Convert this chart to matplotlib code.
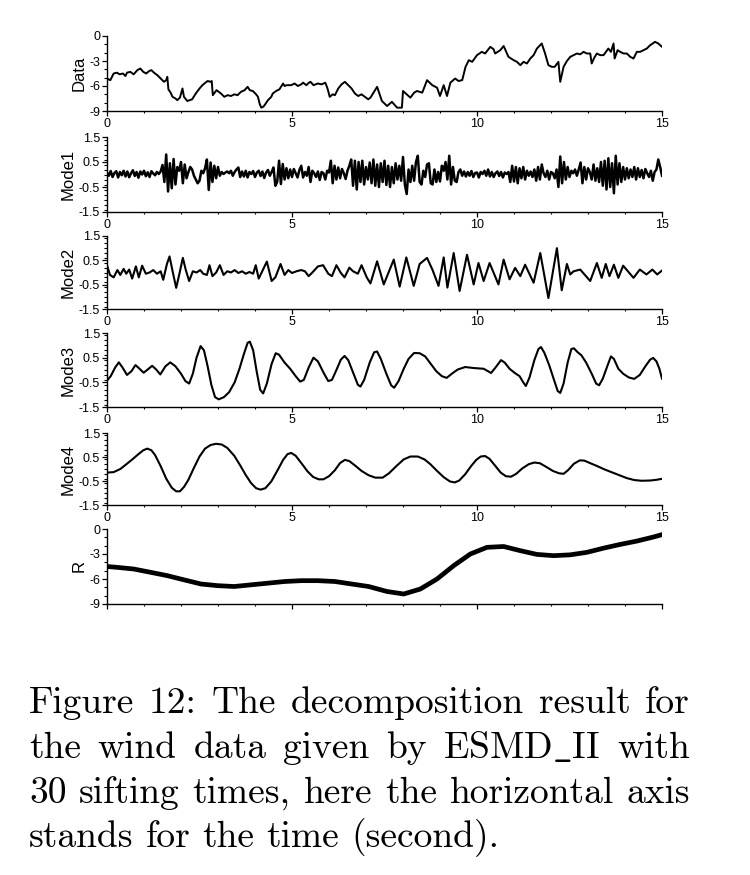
import matplotlib
matplotlib.use("Agg")
import matplotlib.pyplot as plt
from matplotlib.ticker import MultipleLocator, FormatStrFormatter

plt.rcParams.update({"font.family": ["Liberation Sans", "DejaVu Sans"],
                     "axes.unicode_minus": False, "mathtext.fontset": "cm"})

# ---- series ----
data_pts = [
    (0.00, -5.1), (0.09, -5.3), (0.18, -4.5), (0.27, -4.4), (0.34, -4.6), (0.43, -4.5),
    (0.50, -4.8), (0.54, -4.4), (0.63, -4.3), (0.72, -4.6), (0.82, -4.1), (0.90, -3.9),
    (0.98, -4.3), (1.06, -4.5), (1.14, -4.2), (1.20, -4.1), (1.27, -4.4), (1.36, -4.7),
    (1.45, -5.1), (1.54, -5.5), (1.60, -5.3), (1.63, -4.9), (1.66, -6.4), (1.72, -6.8),
    (1.77, -7.3), (1.85, -7.5), (1.90, -7.7), (1.97, -7.4), (2.04, -6.3), (2.08, -7.3),
    (2.17, -7.8), (2.30, -7.6), (2.40, -6.9), (2.50, -6.3), (2.58, -5.9), (2.66, -5.6),
    (2.72, -5.4), (2.80, -5.5), (2.83, -5.4), (2.86, -7.1), (2.96, -6.5), (3.08, -6.9),
    (3.17, -7.3), (3.26, -7.1), (3.35, -7.2), (3.44, -7.0), (3.53, -7.1), (3.62, -6.7),
    (3.72, -6.5), (3.80, -6.1), (3.86, -6.5), (3.94, -6.6), (4.03, -7.0), (4.08, -7.3),
    (4.13, -8.2), (4.17, -8.6), (4.22, -8.5), (4.26, -8.3), (4.35, -7.7), (4.44, -7.3),
    (4.48, -6.9), (4.57, -6.6), (4.66, -6.4), (4.76, -5.7), (4.80, -6.0), (4.86, -5.9),
    (4.98, -5.9), (5.07, -5.7), (5.16, -6.0), (5.25, -5.8), (5.30, -5.6), (5.39, -5.9),
    (5.46, -5.6), (5.50, -5.5), (5.58, -5.9), (5.70, -5.7), (5.80, -5.8), (5.90, -5.6),
    (5.96, -6.3), (6.02, -7.3), (6.10, -7.0), (6.16, -7.1), (6.25, -6.3), (6.34, -5.8),
    (6.43, -5.5), (6.52, -5.9), (6.61, -6.3), (6.70, -6.9), (6.79, -7.2), (6.88, -7.0),
    (6.97, -7.3), (7.06, -7.6), (7.12, -7.4), (7.30, -6.1), (7.43, -7.8), (7.57, -8.4),
    (7.70, -7.9), (7.84, -8.6), (7.97, -8.6), (8.00, -6.6), (8.10, -7.0), (8.20, -7.4),
    (8.30, -6.8), (8.38, -6.6), (8.52, -6.8), (8.65, -5.3), (8.79, -5.9), (8.92, -6.2),
    (9.00, -7.2), (9.10, -5.9), (9.19, -7.2), (9.28, -5.6), (9.41, -5.1), (9.50, -5.4),
    (9.60, -5.3), (9.69, -3.7), (9.78, -2.9), (9.87, -3.1), (9.95, -2.6), (10.00, -2.3),
    (10.13, -1.9), (10.22, -2.1), (10.36, -1.3), (10.45, -1.6), (10.49, -2.1), (10.63, -1.7),
    (10.72, -1.2), (10.85, -2.5), (10.92, -2.7), (10.99, -2.9), (11.08, -3.1), (11.17, -3.5),
    (11.26, -3.1), (11.35, -3.3), (11.44, -2.7), (11.53, -2.3), (11.62, -1.5), (11.75, -0.9),
    (11.84, -2.1), (11.93, -3.5), (12.02, -3.7), (12.10, -3.7), (12.20, -3.1), (12.25, -5.5),
    (12.34, -3.7), (12.43, -3.0), (12.52, -2.5), (12.61, -2.3), (12.70, -2.1), (12.79, -2.2),
    (12.88, -1.9), (12.97, -2.1), (13.06, -2.1), (13.10, -3.3), (13.17, -2.6), (13.24, -2.1),
    (13.33, -2.3), (13.42, -2.3), (13.55, -1.5), (13.62, -1.9), (13.69, -0.9), (13.72, -2.7),
    (13.80, -1.7), (13.87, -1.9), (13.96, -2.1), (14.05, -2.1), (14.14, -2.5), (14.23, -2.7),
    (14.32, -1.9), (14.41, -1.9), (14.50, -1.7), (14.59, -1.5), (14.68, -1.1), (14.75, -0.9),
    (14.81, -0.7), (14.90, -0.9), (15.00, -1.3),
]

# Mode1, sampled evenly over 0..15 s
mode1_v = [
    0.08, -0.05, 0.14, -0.10, 0.06, 0.13, -0.12, 0.10, -0.03, 0.15, -0.08, 0.12, -0.11, 0.05,
    0.17, -0.06, 0.10, -0.13, 0.12, 0.00, 0.15, -0.07, 0.09, -0.10, 0.13, 0.04, -0.03, 0.10, 0.02,
    0.12, 0.38, -0.30, 0.80, -0.68, 0.45, -0.55, 0.62, -0.40, 0.30, 0.15, 0.50,
    -0.35, 0.40, -0.15, 0.10, 0.30, 0.20, -0.05, -0.20,
    -0.35, -0.25, 0.15, 0.05, 0.25, 0.60, -0.62, 0.48,
    -0.30, 0.35, -0.15, 0.30, -0.05, 0.10, 0.02, 0.08,
    0.12, 0.05, 0.15, -0.05, 0.10, 0.20, 0.28, -0.10,
    0.12, -0.08, 0.15, -0.12, 0.10, 0.02, 0.14, -0.10, 0.08, 0.15, -0.06, 0.12, -0.14, 0.08, 0.18, -0.05,
    0.10, 0.28, -0.45, -0.30, 0.55, -0.38, 0.42, -0.20,
    0.25, -0.15, 0.20, -0.10, 0.22, 0.05, -0.12, 0.18,
    0.35, -0.12, 0.10, -0.05, 0.30, -0.30, 0.15, 0.05,
    -0.10, 0.12, -0.22, 0.10, 0.05, -0.20, 0.15, 0.08,
    0.55, -0.35, 0.35, -0.20, 0.28, -0.15, 0.22, 0.05,
    -0.18, 0.15, 0.35, 0.60, -0.45, 0.55, -0.60, 0.50,
    -0.30, 0.55, -0.40, 0.30, -0.20, 0.48, -0.35, 0.60,
    -0.45, 0.40, -0.50, 0.45, -0.30, 0.55, -0.42, 0.35,
    -0.50, 0.30, -0.35, 0.45, -0.20, 0.35, -0.25, 0.70,
    -0.40, -0.78, 0.20, -0.30, 0.35, -0.25, 0.50, 0.75,
    -0.30, -0.40, 0.15, -0.10, 0.40, 0.45, -0.35, -0.40,
    0.20, -0.30, 0.10, -0.28, 0.35, 0.15, 0.50, -0.20,
    0.75, -0.40, 0.30, -0.25, -0.30, 0.10, 0.20, -0.05,
    0.12, -0.08, 0.10, -0.05, 0.14, -0.10, 0.06, 0.08, -0.12, 0.10, 0.02, 0.15,
    -0.05, 0.20, -0.08, 0.10, -0.10, 0.05, 0.12, -0.06, 0.10, -0.12, 0.08, 0.02,
    0.10, -0.30, 0.35, -0.28, 0.30, -0.35, 0.25, -0.15, 0.30, -0.20,
    0.15, -0.05, 0.12, -0.10, 0.20, -0.25, 0.30, -0.20, 0.40, 0.05,
    -0.10, 0.15, -0.20, 0.10, 0.05, -0.15, 0.20, -0.50, 0.72,
    -0.35, 0.50, -0.20, 0.30, -0.10, 0.15, 0.05, 0.20,
    -0.05, 0.20, 0.48, -0.35, 0.30, -0.20, 0.25, 0.10,
    -0.20, 0.40, -0.25, 0.25, -0.30, 0.50, -0.45, 0.55,
    -0.60, 0.65, -0.50, 0.45, -0.75, 0.75, -0.40, 0.45,
    -0.30, 0.30, -0.20, 0.25, -0.15, 0.20, -0.10, 0.30,
    -0.20, 0.25, -0.10, 0.18, -0.15, 0.22, 0.05, -0.10,
    0.15, -0.25, 0.10, 0.20, 0.60, 0.30, -0.05,
]

mode2_pts = [
    (0.00, 0.30), (0.08, -0.10), (0.18, -0.20), (0.28, 0.10), (0.36, -0.10), (0.45, 0.15),
    (0.52, -0.05), (0.60, 0.12), (0.68, -0.25), (0.78, 0.25), (0.86, -0.20), (0.95, 0.28),
    (1.05, -0.05), (1.15, 0.00), (1.25, 0.10), (1.35, -0.05), (1.45, 0.05), (1.52, -0.30),
    (1.62, 0.35), (1.69, 0.66), (1.78, 0.00), (1.87, -0.63), (1.95, -0.10), (2.05, 0.60),
    (2.13, 0.10), (2.22, -0.35), (2.32, 0.05), (2.42, 0.00), (2.52, 0.10), (2.60, -0.05),
    (2.70, -0.10), (2.77, 0.30), (2.85, -0.15), (2.95, 0.00), (3.05, 0.30), (3.15, -0.10),
    (3.25, 0.05), (3.35, 0.00), (3.45, 0.10), (3.55, -0.02), (3.65, 0.05), (3.75, -0.05),
    (3.85, 0.02), (3.95, -0.05), (4.02, 0.30), (4.10, -0.25), (4.18, 0.00), (4.32, 0.45),
    (4.45, -0.35), (4.55, -0.20), (4.69, 0.35), (4.80, -0.10), (4.90, 0.10), (5.00, -0.02),
    (5.12, 0.05), (5.25, 0.10), (5.35, 0.05), (5.45, -0.15), (5.55, 0.00), (5.70, 0.25),
    (5.84, 0.30), (5.98, -0.05), (6.08, -0.15), (6.20, 0.30), (6.32, -0.02), (6.42, -0.20),
    (6.55, 0.20), (6.65, 0.05), (6.78, -0.05), (6.88, 0.30), (7.02, -0.20), (7.12, -0.45),
    (7.30, 0.46), (7.48, -0.49), (7.75, 0.53), (7.91, -0.58), (8.09, 0.62), (8.29, -0.55),
    (8.45, 0.35), (8.65, 0.60), (8.80, 0.10), (8.96, -0.55), (9.10, 0.62), (9.20, -0.62),
    (9.37, 0.80), (9.53, -0.76), (9.73, 0.73), (9.91, -0.49), (10.04, 0.39), (10.18, -0.35),
    (10.34, 0.39), (10.58, -0.49), (10.72, 0.53), (10.88, -0.28), (11.03, 0.19), (11.17, -0.15),
    (11.30, 0.32), (11.53, -0.42), (11.71, 0.80), (11.93, -1.05), (12.16, 1.00), (12.29, -0.73),
    (12.43, 0.35), (12.52, -0.08), (12.61, 0.05), (12.79, 0.12), (13.06, -0.35), (13.24, 0.39),
    (13.37, -0.22), (13.48, 0.35), (13.58, -0.15), (13.70, 0.32), (13.82, -0.22), (13.95, 0.28),
    (14.23, -0.22), (14.40, 0.12), (14.58, -0.08), (14.74, 0.12), (14.87, -0.08), (15.00, 0.08),
]

mode3_pts = [
    (0.00, -0.43), (0.10, -0.25), (0.22, 0.10), (0.32, 0.31), (0.42, 0.10), (0.54, -0.20),
    (0.66, -0.05), (0.77, 0.20), (0.88, 0.05), (0.99, -0.11), (1.10, 0.02), (1.22, 0.17),
    (1.33, 0.02), (1.44, -0.18), (1.58, 0.15), (1.71, 0.31), (1.85, 0.15), (2.00, -0.15),
    (2.12, -0.45), (2.22, -0.55), (2.32, -0.15), (2.42, 0.50), (2.53, 0.97), (2.62, 0.80),
    (2.72, 0.15), (2.82, -0.60), (2.92, -1.10), (3.02, -1.19), (3.16, -1.10), (3.30, -0.90),
    (3.45, -0.50), (3.58, 0.05), (3.70, 0.65), (3.80, 1.10), (3.86, 1.15), (3.95, 0.80),
    (4.05, -0.10), (4.14, -0.80), (4.22, -0.95), (4.32, -0.55), (4.45, 0.25), (4.56, 0.68),
    (4.65, 0.62), (4.80, 0.30), (4.95, 0.05), (5.10, -0.25), (5.22, -0.47), (5.32, -0.40),
    (5.45, 0.10), (5.58, 0.50), (5.70, 0.35), (5.85, -0.10), (5.98, -0.45), (6.08, -0.40),
    (6.20, 0.00), (6.32, 0.42), (6.42, 0.57), (6.52, 0.40), (6.65, -0.10), (6.78, -0.60),
    (6.85, -0.67), (6.95, -0.40), (7.10, 0.30), (7.22, 0.72), (7.30, 0.75), (7.40, 0.45),
    (7.55, -0.15), (7.68, -0.62), (7.76, -0.72), (7.88, -0.45), (8.02, 0.05), (8.15, 0.45),
    (8.30, 0.69), (8.45, 0.68), (8.60, 0.55), (8.75, 0.25), (8.90, -0.05), (9.05, -0.25),
    (9.18, -0.32), (9.32, -0.15), (9.48, 0.02), (9.68, 0.12), (9.91, 0.08), (10.18, 0.05),
    (10.30, -0.05), (10.38, -0.12), (10.50, 0.10), (10.65, 0.40), (10.75, 0.30), (10.88, 0.05),
    (11.02, -0.12), (11.15, -0.25), (11.25, -0.50), (11.32, -0.65), (11.42, -0.30), (11.55, 0.40),
    (11.66, 0.85), (11.73, 0.93), (11.82, 0.70), (11.95, 0.20), (12.08, -0.40), (12.18, -0.85),
    (12.25, -0.93), (12.34, -0.55), (12.45, 0.30), (12.55, 0.85), (12.62, 0.88), (12.72, 0.72),
    (12.82, 0.60), (12.95, 0.30), (13.10, -0.15), (13.22, -0.55), (13.30, -0.62), (13.40, -0.35),
    (13.52, 0.15), (13.62, 0.55), (13.70, 0.45), (13.82, 0.05), (13.95, -0.15), (14.10, -0.30),
    (14.25, -0.36), (14.40, -0.20), (14.55, 0.15), (14.68, 0.42), (14.76, 0.49), (14.85, 0.35),
    (14.93, 0.05), (15.00, -0.35),
]

mode4_pts = [
    (0.00, -0.15), (0.18, -0.13), (0.36, 0.00), (0.54, 0.22), (0.70, 0.42), (0.85, 0.62),
    (0.98, 0.78), (1.09, 0.85), (1.20, 0.78), (1.30, 0.58), (1.45, 0.12), (1.60, -0.40),
    (1.75, -0.78), (1.87, -0.93), (1.97, -0.93), (2.08, -0.75), (2.20, -0.45), (2.35, 0.05),
    (2.50, 0.52), (2.65, 0.85), (2.80, 1.00), (2.95, 1.05), (3.10, 1.02), (3.25, 0.88),
    (3.44, 0.55), (3.60, 0.15), (3.75, -0.25), (3.89, -0.58), (4.03, -0.80), (4.15, -0.86),
    (4.28, -0.80), (4.44, -0.52), (4.60, -0.08), (4.76, 0.38), (4.88, 0.62), (4.98, 0.67),
    (5.10, 0.55), (5.25, 0.25), (5.42, -0.10), (5.57, -0.33), (5.72, -0.43), (5.85, -0.43),
    (6.00, -0.30), (6.16, -0.05), (6.30, 0.25), (6.43, 0.38), (6.55, 0.33), (6.70, 0.15),
    (6.88, -0.08), (7.07, -0.26), (7.25, -0.36), (7.45, -0.36), (7.62, -0.18), (7.84, 0.15),
    (8.02, 0.40), (8.20, 0.52), (8.40, 0.52), (8.58, 0.40), (8.74, 0.20), (8.92, -0.08),
    (9.10, -0.34), (9.27, -0.52), (9.40, -0.56), (9.52, -0.48), (9.68, -0.22), (9.84, 0.12),
    (9.98, 0.38), (10.10, 0.52), (10.22, 0.54), (10.34, 0.42), (10.50, 0.12), (10.64, -0.15),
    (10.78, -0.30), (10.92, -0.32), (11.06, -0.20), (11.22, 0.02), (11.40, 0.20), (11.55, 0.27),
    (11.70, 0.24), (11.88, 0.08), (12.05, -0.08), (12.22, -0.18), (12.34, -0.20), (12.46, -0.05),
    (12.62, 0.22), (12.78, 0.36), (12.90, 0.35), (13.05, 0.25), (13.25, 0.12), (13.45, -0.02),
    (13.65, -0.14), (13.85, -0.26), (14.05, -0.38), (14.25, -0.46), (14.45, -0.49), (14.68, -0.48),
    (14.85, -0.45), (15.00, -0.41),
]

r_pts = [
    (0.00, -4.5), (0.27, -4.6), (0.72, -4.8), (1.18, -5.2), (1.63, -5.6), (2.08, -6.1),
    (2.54, -6.6), (2.99, -6.8), (3.44, -6.9), (3.89, -6.7), (4.35, -6.5), (4.80, -6.3),
    (5.25, -6.2), (5.70, -6.2), (6.16, -6.3), (6.61, -6.6), (7.07, -6.9), (7.57, -7.5),
    (8.02, -7.8), (8.47, -7.2), (8.92, -6.0), (9.37, -4.4), (9.82, -3.0), (10.27, -2.2),
    (10.72, -2.1), (11.17, -2.6), (11.62, -3.05), (12.07, -3.2), (12.52, -3.1), (12.97, -2.8),
    (13.42, -2.3), (13.87, -1.85), (14.32, -1.45), (14.77, -0.96), (14.98, -0.7),
]

panel_names = ["Data", "Mode1", "Mode2", "Mode3", "Mode4", "R"]
caption_lines = [
    "Figure 12: The decomposition result for",
    r"the wind data given by $\mathrm{ESMD\_II}$ with",
    "30 sifting times, here the horizontal axis",
    "stands for the time (second).",
]

W, H = 750, 875
fig = plt.figure(figsize=(W / 100, H / 100), dpi=100)

tops = [36, 137, 236, 333, 433, 529]
bots = [111, 212, 309, 407, 505, 604]
n1 = len(mode1_v)
series = [
    ([p[0] for p in data_pts], [p[1] for p in data_pts], 1.4),
    ([15.0 * i / (n1 - 1) for i in range(n1)], mode1_v, 1.8),
    ([p[0] for p in mode2_pts], [p[1] for p in mode2_pts], 1.5),
    ([p[0] for p in mode3_pts], [p[1] for p in mode3_pts], 1.5),
    ([p[0] for p in mode4_pts], [p[1] for p in mode4_pts], 1.5),
    ([p[0] for p in r_pts], [p[1] for p in r_pts], 3.4),
]

for k, (name, (xs, ys, lw)) in enumerate(zip(panel_names, series)):
    ax = fig.add_axes([107 / W, 1 - bots[k] / H, 555 / W, (bots[k] - tops[k]) / H])
    ax.plot(xs, ys, color="black", lw=lw, solid_joinstyle="round")
    ax.set_xlim(0, 15)
    if name in ("Data", "R"):
        ax.set_ylim(-9, 0)
        ax.yaxis.set_major_locator(MultipleLocator(3))
        ax.yaxis.set_minor_locator(MultipleLocator(1))
        ax.yaxis.set_major_formatter(FormatStrFormatter("%d"))
    else:
        ax.set_ylim(-1.5, 1.5)
        ax.set_yticks([-1.5, -0.5, 0.5, 1.5])
        ax.yaxis.set_minor_locator(MultipleLocator(0.2))
        ax.yaxis.set_major_formatter(FormatStrFormatter("%.1f"))
    ax.xaxis.set_major_locator(MultipleLocator(5))
    ax.xaxis.set_minor_locator(MultipleLocator(1))
    for s in ("top", "right"):
        ax.spines[s].set_visible(False)
    for s in ("left", "bottom"):
        ax.spines[s].set_linewidth(1.0)
    ax.tick_params(which="major", direction="out", length=3.5, width=0.9, labelsize=9, pad=1.5)
    ax.tick_params(which="minor", direction="out", length=2, width=0.8)
    ax.tick_params(axis="x", which="minor", length=1.5)
    if k == len(panel_names) - 1:
        ax.tick_params(axis="x", labelbottom=False)
    ax.set_ylabel(name, fontsize=12, labelpad=2)

# ---- justified caption ----
fig.canvas.draw()
rend = fig.canvas.get_renderer()
left_px, right_px = 29, 690
baselines = [713, 758, 803, 847]
for k, line in enumerate(caption_lines):
    words = line.split(" ")
    objs = [fig.text(0, 1 - baselines[k] / H, w, fontsize=27, family="cmr10", va="baseline")
            for w in words]
    widths = [o.get_window_extent(rend).width for o in objs]
    if k < len(caption_lines) - 1:
        gap = (right_px - left_px - sum(widths)) / (len(words) - 1)
    else:
        gap = 12
    x = left_px
    for o, w in zip(objs, widths):
        o.set_x(x / W)
        x += w + gap

fig.savefig("out.png", dpi=100)
